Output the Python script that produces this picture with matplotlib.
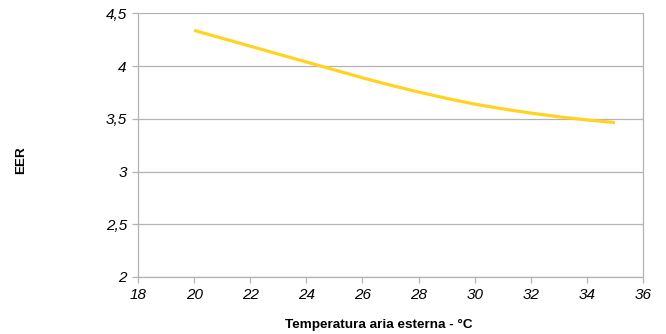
import numpy as np
import matplotlib.pyplot as plt

# values
temp = [20, 21, 22, 23, 24, 25, 26, 27, 28, 29, 30, 31, 32, 33, 34, 35]
eer = [4.34, 4.265, 4.19, 4.115, 4.04, 3.965, 3.89, 3.82, 3.755, 3.695,
       3.64, 3.595, 3.555, 3.52, 3.49, 3.465]
xticks = [18, 20, 22, 24, 26, 28, 30, 32, 34, 36]
yticks = [2, 2.5, 3, 3.5, 4, 4.5]
ytick_labels = ["2", "2,5", "3", "3,5", "4", "4,5"]

plt.rcParams['font.family'] = ['Liberation Sans', 'DejaVu Sans']

fig = plt.figure(figsize=(6.66, 3.34), dpi=100)
ax = fig.add_axes([0.2072, 0.1707, 0.7583, 0.7889])

grid_c = '#b3b3b3'
ax.plot(temp, eer, color='#ffd320', lw=2.3, solid_capstyle='butt', zorder=3)

ax.set_xlim(18, 36)
ax.set_ylim(2, 4.5)
ax.set_xticks(xticks)
ax.set_xticklabels([str(t) for t in xticks], fontstyle='italic', fontsize=11)
ax.set_yticks(yticks)
ax.set_yticklabels(ytick_labels, fontstyle='italic', fontsize=11)
ax.grid(axis='y', color=grid_c, lw=0.9)
ax.set_axisbelow(True)

ax.spines['top'].set_visible(False)
for s in ['left', 'right', 'bottom']:
    ax.spines[s].set_color(grid_c)
    ax.spines[s].set_linewidth(0.9)
ax.tick_params(axis='both', length=4, color=grid_c, width=0.9, pad=4)

ax.set_xlabel('Temperatura aria esterna - °C', fontweight='bold', fontsize=9.7)
ax.xaxis.set_label_coords(0.477, -0.16)
ax.set_ylabel('EER', fontweight='bold', fontsize=9.7)
ax.yaxis.set_label_coords(-0.22, 0.444)

fig.savefig('out.png', dpi=100)
